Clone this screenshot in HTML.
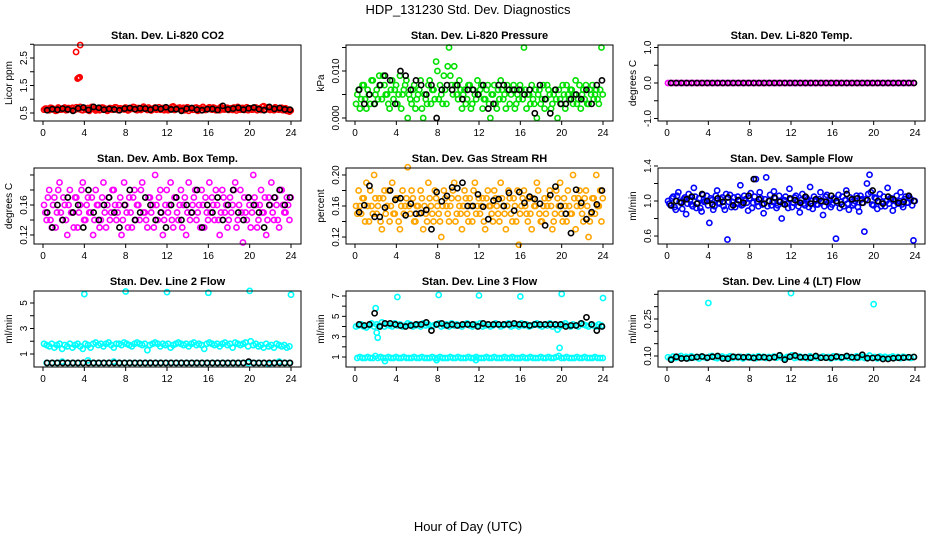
<!DOCTYPE html>
<html><head><meta charset="utf-8"><style>
html,body{margin:0;padding:0;background:#fff;}
svg{display:block;font-family:"Liberation Sans",Arial,sans-serif;}
</style></head><body>
<svg id="chart" width="936" height="540" viewBox="0 0 936 540">
<rect width="936" height="540" fill="#fff"/>
<text x="468" y="14" text-anchor="middle" font-size="13">HDP_131230  Std. Dev. Diagnostics</text>
<text x="468" y="531" text-anchor="middle" font-size="13">Hour of Day (UTC)</text>
</svg>
<script>
// ---- data ----
const co2Color=[0.62,0.66,0.60,0.68,0.64,0.59,0.67,0.63,0.70,0.61,0.65,0.69,0.62,0.66,0.72,0.60,0.64,0.68,0.63,0.71,0.59,0.66,0.62,0.69,0.65,0.61,0.67,0.64,0.70,0.60,0.66,0.63,0.68,0.62,0.65,0.71,0.60,0.67,0.64,0.69,0.61,0.66,0.63,0.70,0.65,0.62,0.68,0.64,0.60,0.67,0.74,0.63,0.66,0.61,0.69,0.64,0.58,0.67,0.62,0.70,0.65,0.60,0.66,0.63,0.71,0.62,0.68,0.64,0.60,0.67,0.63,0.69,0.65,0.61,0.66,0.72,0.62,0.68,0.64,0.60,0.67,0.63,0.70,0.65,0.61,0.75,0.63,0.68,0.64,0.60,0.66,0.62,0.69,0.64,0.58,0.55];
const co2Color2=[0.66,0.61,0.69,0.63,0.58,0.70,0.62,0.67,0.60,0.68,0.63,0.59,0.71,0.64,0.61,0.69,0.62,0.58,0.72,0.65,0.63,0.60,0.70,0.64,0.58,0.68,0.62,0.71,0.61,0.67,0.64,0.70,0.59,0.66,0.72,0.62,0.68,0.61,0.73,0.64,0.70,0.59,0.67,0.62,0.71,0.66,0.60,0.69,0.63,0.72,0.61,0.68,0.70,0.64,0.60,0.71,0.66,0.62,0.69,0.58,0.67,0.72,0.61,0.68,0.64,0.70,0.60,0.66,0.72,0.63,0.69,0.61,0.67,0.70,0.59,0.64,0.68,0.61,0.71,0.66,0.62,0.69,0.60,0.67,0.72,0.64,0.70,0.61,0.66,0.71,0.63,0.68,0.60,0.67,0.62,0.59];
const co2Black=[0.60,0.64,0.62,0.66,0.63,0.58,0.67,0.70,0.61,0.72,0.69,0.62,0.65,0.63,0.60,0.66,0.68,0.64,0.67,0.66,0.62,0.69,0.65,0.71,0.63,0.64,0.58,0.66,0.68,0.62,0.60,0.64,0.65,0.61,0.76,0.63,0.66,0.69,0.62,0.67,0.70,0.64,0.60,0.72,0.65,0.68,0.63,0.62];
const co2ExtraHours=[3.2,3.35,3.45,3.55,3.6];
const co2ExtraValues=[2.72,1.75,1.78,1.80,2.97];

const presColor=[0.003,0.006,0.004,0.007,0.002,0.005,0.008,0.003,0.006,0.009,0.004,0.007,0.005,0.002,0.008,0.006,0.003,0.009,0.005,0.007,0.000,0.004,0.006,0.002,0.005,0.008,0.000,0.004,0.007,0.003,0.006,0.012,0.004,0.005,0.009,0.003,0.015,0.007,0.011,0.005,0.008,0.002,0.006,0.004,0.007,0.003,0.005,0.008,0.006,0.002,0.004,0.007,0.000,0.005,0.003,0.006,0.008,0.004,0.002,0.006,0.005,0.007,0.003,0.004,0.006,0.015,0.002,0.005,0.007,0.003,0.000,0.006,0.004,0.002,0.007,0.005,0.003,0.006,0.000,0.004,0.007,0.002,0.005,0.006,0.003,0.008,0.004,0.002,0.006,0.007,0.003,0.005,0.004,0.006,0.003,0.015];
const presColor2=[0.005,0.002,0.007,0.004,0.006,0.003,0.008,0.005,0.004,0.007,0.009,0.005,0.003,0.006,0.004,0.007,0.005,0.002,0.006,0.008,0.005,0.003,0.007,0.004,0.006,0.002,0.005,0.003,0.008,0.006,0.004,0.010,0.007,0.003,0.006,0.011,0.009,0.005,0.007,0.004,0.006,0.005,0.003,0.007,0.002,0.006,0.004,0.005,0.007,0.004,0.006,0.003,0.005,0.007,0.002,0.004,0.006,0.005,0.007,0.003,0.006,0.002,0.005,0.007,0.004,0.006,0.005,0.003,0.004,0.006,0.005,0.003,0.007,0.004,0.006,0.002,0.005,0.004,0.006,0.003,0.005,0.007,0.004,0.006,0.005,0.003,0.007,0.005,0.004,0.003,0.006,0.007,0.005,0.004,0.006,0.005];
const presBlack=[0.006,0.003,0.005,0.003,0.007,0.009,0.008,0.003,0.010,0.009,0.006,0.008,0.007,0.005,0.007,0.000,0.006,0.007,0.006,0.007,0.004,0.006,0.006,0.005,0.007,0.002,0.003,0.007,0.007,0.006,0.006,0.006,0.005,0.006,0.001,0.007,0.004,0.001,0.006,0.003,0.003,0.004,0.005,0.004,0.006,0.003,0.007,0.008];

const tempColor=new Array(96).fill(0);
const tempBlack=new Array(48).fill(0);

const ambColor=[0.16,0.14,0.18,0.13,0.17,0.15,0.19,0.14,0.16,0.12,0.18,0.15,0.17,0.13,0.16,0.19,0.14,0.17,0.15,0.12,0.18,0.16,0.14,0.19,0.13,0.17,0.15,0.18,0.14,0.16,0.12,0.19,0.15,0.17,0.13,0.18,0.16,0.14,0.19,0.15,0.13,0.17,0.16,0.20,0.14,0.18,0.12,0.16,0.15,0.19,0.13,0.17,0.14,0.18,0.16,0.12,0.19,0.15,0.17,0.14,0.16,0.18,0.13,0.15,0.19,0.17,0.14,0.16,0.12,0.18,0.15,0.13,0.17,0.16,0.19,0.14,0.18,0.11,0.15,0.17,0.13,0.20,0.16,0.14,0.18,0.15,0.12,0.17,0.19,0.14,0.16,0.13,0.18,0.15,0.17,0.14];
const ambColor2=[0.15,0.17,0.14,0.16,0.13,0.18,0.15,0.17,0.14,0.16,0.15,0.13,0.17,0.15,0.18,0.14,0.16,0.15,0.17,0.14,0.16,0.13,0.17,0.15,0.16,0.14,0.18,0.16,0.15,0.17,0.14,0.16,0.13,0.15,0.17,0.14,0.16,0.18,0.15,0.14,0.17,0.15,0.13,0.16,0.17,0.15,0.14,0.18,0.16,0.14,0.17,0.15,0.16,0.13,0.17,0.15,0.14,0.16,0.18,0.15,0.13,0.16,0.17,0.14,0.15,0.16,0.18,0.14,0.15,0.17,0.16,0.14,0.15,0.18,0.13,0.16,0.15,0.17,0.14,0.16,0.15,0.17,0.13,0.16,0.15,0.17,0.14,0.16,0.15,0.17,0.14,0.18,0.16,0.15,0.16,0.17];
const ambBlack=[0.15,0.13,0.16,0.14,0.17,0.15,0.16,0.13,0.18,0.15,0.14,0.16,0.17,0.15,0.13,0.16,0.18,0.14,0.15,0.17,0.16,0.14,0.15,0.13,0.16,0.17,0.14,0.16,0.15,0.18,0.13,0.16,0.15,0.17,0.14,0.16,0.18,0.15,0.14,0.17,0.16,0.15,0.13,0.16,0.17,0.18,0.16,0.17];

const rhColor=[0.16,0.18,0.15,0.17,0.19,0.14,0.16,0.20,0.15,0.17,0.13,0.18,0.16,0.14,0.19,0.15,0.17,0.13,0.18,0.16,0.21,0.15,0.17,0.14,0.16,0.18,0.13,0.15,0.19,0.16,0.14,0.17,0.15,0.12,0.18,0.16,0.14,0.17,0.19,0.15,0.16,0.13,0.18,0.15,0.17,0.14,0.19,0.16,0.15,0.17,0.13,0.18,0.16,0.14,0.17,0.15,0.19,0.16,0.13,0.18,0.15,0.17,0.14,0.11,0.16,0.18,0.15,0.17,0.13,0.16,0.19,0.15,0.14,0.17,0.16,0.18,0.13,0.15,0.17,0.19,0.14,0.16,0.18,0.15,0.20,0.13,0.17,0.16,0.14,0.18,0.12,0.15,0.17,0.20,0.16,0.14];
const rhColor2=[0.15,0.16,0.17,0.14,0.16,0.18,0.15,0.17,0.16,0.14,0.17,0.15,0.18,0.16,0.15,0.17,0.14,0.16,0.15,0.17,0.16,0.18,0.14,0.16,0.15,0.17,0.16,0.14,0.17,0.15,0.18,0.16,0.14,0.16,0.17,0.15,0.16,0.18,0.14,0.17,0.15,0.16,0.17,0.14,0.16,0.18,0.15,0.17,0.16,0.14,0.17,0.16,0.15,0.18,0.16,0.14,0.17,0.15,0.16,0.17,0.14,0.16,0.18,0.15,0.17,0.16,0.14,0.15,0.17,0.16,0.18,0.14,0.16,0.15,0.17,0.16,0.14,0.18,0.16,0.15,0.17,0.14,0.16,0.15,0.17,0.16,0.18,0.15,0.17,0.16,0.14,0.17,0.15,0.16,0.18,0.17];
const rhBlack=[0.152,0.161,0.186,0.146,0.146,0.158,0.180,0.168,0.170,0.148,0.163,0.150,0.151,0.155,0.130,0.178,0.166,0.173,0.184,0.183,0.190,0.160,0.160,0.175,0.159,0.143,0.167,0.169,0.160,0.177,0.154,0.178,0.164,0.172,0.169,0.163,0.135,0.174,0.185,0.160,0.150,0.125,0.181,0.164,0.143,0.152,0.162,0.180];

const flowColor=[1.00,0.95,1.05,0.90,1.10,0.98,1.02,0.85,1.08,0.96,1.15,0.92,1.03,0.88,0.99,1.06,0.75,1.01,0.94,1.12,0.97,1.04,0.90,0.56,1.07,0.99,0.93,1.05,1.18,0.96,1.02,0.89,1.09,0.98,1.25,0.94,1.03,0.86,1.27,1.00,0.95,1.11,0.92,1.06,0.80,1.01,0.97,1.14,0.93,1.04,0.99,0.87,1.08,0.95,1.02,1.16,0.91,1.00,0.96,1.10,0.84,1.05,0.98,0.93,1.03,0.57,1.07,0.99,0.94,1.12,0.90,1.01,0.97,1.06,0.88,1.02,0.65,1.20,1.30,0.96,1.04,0.91,1.08,0.99,0.94,1.15,1.03,0.89,1.00,0.97,1.10,0.93,1.05,0.98,1.02,0.55];
const flowColor2=[0.97,1.03,0.93,1.06,0.99,0.91,1.04,0.97,1.01,0.94,1.05,0.98,0.92,1.07,1.00,0.95,1.03,0.90,1.06,0.98,1.02,0.94,1.08,0.99,0.93,1.04,0.97,1.01,0.95,1.06,0.98,1.03,0.92,1.05,0.99,1.10,0.96,1.02,0.94,1.07,0.99,1.03,0.95,1.00,0.97,1.05,0.92,1.02,0.98,1.06,0.94,1.01,0.97,1.04,0.93,1.00,1.05,0.96,1.02,0.99,0.94,1.07,1.00,0.96,1.03,0.98,0.92,1.05,1.01,0.97,1.04,0.95,1.00,0.93,1.06,0.98,1.02,1.08,1.10,0.95,1.03,0.99,0.94,1.05,1.00,0.97,1.03,0.95,1.06,1.00,0.96,1.02,0.98,1.04,0.95,1.00];
const flowBlack=[0.95,1.00,0.98,1.02,1.05,0.97,1.08,1.00,0.96,1.03,0.99,1.04,0.95,1.01,0.98,1.06,1.25,1.02,0.97,1.00,1.04,0.99,0.96,1.03,1.01,0.98,1.05,0.97,1.02,1.00,0.99,1.06,1.00,0.96,1.08,1.02,1.03,0.98,1.01,1.12,1.00,0.97,1.05,1.02,0.98,0.99,1.06,1.00];

const line2Color=[1.8,1.7,1.6,1.8,1.5,1.7,1.8,1.4,1.7,1.6,1.8,1.5,1.7,1.8,1.6,1.4,1.8,1.7,1.5,1.8,1.9,1.7,1.8,1.6,1.8,1.9,1.7,1.5,1.8,1.8,1.7,1.9,1.8,1.7,1.6,1.8,1.9,1.8,1.7,1.8,1.3,1.7,1.8,1.9,1.8,1.6,1.8,1.7,1.8,1.5,1.7,1.8,1.9,1.8,1.7,1.8,1.6,1.8,1.9,1.7,1.8,1.7,1.4,1.8,1.9,1.8,1.7,1.8,1.6,1.8,1.9,1.7,1.8,1.5,1.9,1.8,1.7,1.8,1.9,1.6,2.0,1.7,1.8,1.6,1.7,1.5,1.8,1.6,1.7,1.5,1.8,1.7,1.6,1.7,1.5,1.6];
const line2Low=[0.3,0.3,0.3,0.4,0.3,0.3,0.3,0.3,0.5,0.3,0.3,0.3,0.3,0.4,0.3,0.3,0.3,0.3,0.3,0.3,0.3,0.3,0.3,0.3,0.3,0.3,0.3,0.3,0.3,0.3,0.3,0.3,0.3,0.3,0.3,0.3,0.3,0.3,0.3,0.3,0.3,0.3,0.3,0.2,0.3,0.4,0.3,0.3];
const line2Black=[0.3,0.3,0.3,0.3,0.3,0.3,0.3,0.3,0.3,0.3,0.3,0.3,0.3,0.3,0.3,0.3,0.3,0.3,0.3,0.3,0.3,0.3,0.3,0.3,0.3,0.3,0.3,0.3,0.3,0.3,0.3,0.3,0.3,0.3,0.3,0.3,0.3,0.3,0.3,0.4,0.3,0.3,0.3,0.3,0.3,0.3,0.3,0.3];
const line2ExtraHours=[4,8,12,16,20,24];
const line2ExtraValues=[5.7,5.9,5.85,5.8,5.95,5.65];

const line3Color=[4.0,4.1,4.2,4.0,3.9,4.1,4.3,4.0,4.2,4.1,4.4,4.0,4.2,4.1,4.0,4.3,4.1,4.2,4.0,4.1,4.3,4.2,4.0,4.1,4.2,4.0,4.3,4.1,4.2,4.0,4.1,4.2,4.3,4.0,4.1,4.2,4.0,4.3,4.1,4.2,4.1,4.0,4.2,4.3,4.1,4.0,4.2,4.1,4.3,4.0,4.1,4.2,4.0,4.1,4.3,4.2,4.0,4.1,4.2,4.3,4.0,4.1,4.2,4.0,4.3,4.1,4.2,4.0,4.1,4.2,4.3,4.1,4.0,4.2,4.1,4.3,4.0,4.2,4.1,4.0,4.2,4.3,4.1,4.0,4.2,4.1,4.0,4.3,4.2,4.1,4.0,4.2,4.1,4.0,4.2,4.1];
const line3Low=[0.9,1.0,0.9,0.9,1.0,0.9,0.9,1.1,0.9,1.0,0.9,0.9,1.0,0.9,0.9,1.0,0.9,0.9,1.0,0.9,0.9,0.9,1.0,0.9,0.9,1.0,0.9,0.9,0.9,1.0,0.9,0.9,1.0,0.9,0.9,0.9,1.0,0.9,0.9,1.0,0.9,0.9,0.9,1.0,0.9,0.9,1.0,0.9,0.9,0.9,1.0,0.9,0.9,1.0,0.9,0.9,0.9,1.0,0.9,0.9,1.0,0.9,0.9,0.9,1.0,0.9,0.9,1.0,0.9,0.9,0.9,1.0,0.9,0.9,1.0,0.9,0.9,1.0,1.1,0.9,0.9,1.0,0.9,0.9,0.9,1.0,0.9,0.9,1.0,0.9,0.9,0.9,1.0,0.9,0.9,0.9];
const line3Black=[4.2,4.1,4.2,5.3,4.0,4.3,4.3,4.2,4.1,4.0,4.1,4.2,4.2,4.4,3.6,4.2,4.3,4.1,4.2,4.1,4.2,4.2,4.2,4.0,4.3,4.2,4.2,4.2,4.2,4.2,4.3,4.2,4.2,4.1,4.2,4.2,4.2,4.2,4.2,4.2,4.0,4.1,4.1,4.3,4.9,4.2,3.6,4.0];
const line3ExtraHours=[2.0,2.1,2.2,2.9,4.1,7.9,8.1,11.7,12.0,16.0,19.6,19.8,20.0,24.0];
const line3ExtraValues=[5.8,3.4,2.9,0.6,6.9,0.7,7.1,0.7,7.05,6.95,3.7,1.9,7.2,6.8];

const line4Color=[0.095,0.090,0.098,0.092,0.096,0.100,0.093,0.097,0.091,0.099,0.094,0.096,0.090,0.098,0.095,0.092,0.097,0.100,0.094,0.091,0.096,0.098,0.093,0.095,0.099,0.092,0.096,0.094,0.097,0.090,0.095,0.098,0.093,0.096,0.091,0.099,0.094,0.097,0.092,0.096,0.095,0.098,0.093,0.100,0.094,0.091,0.096,0.097,0.103,0.092,0.095,0.098,0.093,0.096,0.091,0.099,0.094,0.097,0.092,0.095,0.098,0.093,0.096,0.090,0.099,0.094,0.097,0.092,0.095,0.098,0.093,0.096,0.091,0.099,0.094,0.097,0.092,0.095,0.102,0.093,0.096,0.090,0.098,0.094,0.097,0.092,0.095,0.098,0.093,0.096,0.091,0.097,0.094,0.095,0.092,0.096];
const line4Black=[0.085,0.097,0.090,0.090,0.093,0.096,0.098,0.093,0.097,0.100,0.090,0.089,0.097,0.096,0.095,0.095,0.092,0.095,0.095,0.092,0.095,0.103,0.085,0.097,0.102,0.095,0.095,0.093,0.100,0.093,0.093,0.093,0.098,0.095,0.100,0.095,0.094,0.105,0.091,0.092,0.094,0.088,0.088,0.091,0.093,0.093,0.095,0.096];
const line4ExtraHours=[4,12,20];
const line4ExtraValues=[0.315,0.355,0.31];

const xTicks=[0,4,8,12,16,20,24];

// ---- layout ----
const NS="http://www.w3.org/2000/svg";
const svg=document.getElementById('chart');
const colX=[34,346,658], boxW=267;
const rowY=[45,168,291], boxH=76;
const x0off=9, x24off=257;

function mk(tag,attrs,parent){const e=document.createElementNS(NS,tag);for(const k in attrs)e.setAttribute(k,attrs[k]);(parent||svg).appendChild(e);return e;}

const panels=[
 {name:'co2',title:'Stan. Dev. Li-820 CO2',ylab:'Licor ppm',ymin:0.209,ymax:2.973,ticks:[0.5,1,1.5,2,2.5,3],labels:['0.5','1.5','2.5'],color:'#ff0000',series:[co2Color,co2Color2],extraH:co2ExtraHours,extraV:co2ExtraValues,black:co2Black},
 {name:'pressure',title:'Stan. Dev. Li-820 Pressure',ylab:'kPa',ymin:-0.00064,ymax:0.01553,ticks:[0,0.005,0.01,0.015],labels:['0.000','0.010'],color:'#00e000',series:[presColor,presColor2],black:presBlack},
 {name:'temp',title:'Stan. Dev. Li-820 Temp.',ylab:'degrees C',ymin:-1.07,ymax:1.07,ticks:[-1,-0.5,0,0.5,1],labels:['-1.0','0.0','1.0'],color:'#ff00ff',series:[tempColor],black:tempBlack},
 {name:'amb-box-temp',title:'Stan. Dev. Amb. Box Temp.',ylab:'degrees C',ymin:0.108,ymax:0.2093,ticks:[0.12,0.14,0.16,0.18,0.20],labels:['0.12','0.16'],color:'#ff00ff',series:[ambColor,ambColor2],black:ambBlack},
 {name:'gas-rh',title:'Stan. Dev. Gas Stream RH',ylab:'percent',ymin:0.111,ymax:0.209,ticks:[0.12,0.14,0.16,0.18,0.20],labels:['0.12','0.16','0.20'],color:'#ffa500',series:[rhColor,rhColor2],black:rhBlack},
 {name:'sample-flow',title:'Stan. Dev. Sample Flow',ylab:'ml/min',ymin:0.509,ymax:1.377,ticks:[0.6,0.8,1.0,1.2,1.4],labels:['0.6','1.0','1.4'],color:'#0000ff',series:[flowColor,flowColor2],black:flowBlack},
 {name:'line2-flow',title:'Stan. Dev. Line 2 Flow',ylab:'ml/min',ymin:-0.02,ymax:5.94,ticks:[1,2,3,4,5],labels:['1','3','5'],color:'#00ffff',series:[line2Color,line2Low],extraH:line2ExtraHours,extraV:line2ExtraValues,black:line2Black},
 {name:'line3-flow',title:'Stan. Dev. Line 3 Flow',ylab:'ml/min',ymin:0.017,ymax:7.49,ticks:[1,2,3,4,5,6,7],labels:['1','3','5','7'],color:'#00ffff',series:[line3Color,line3Low],extraH:line3ExtraHours,extraV:line3ExtraValues,black:line3Black},
 {name:'line4-flow',title:'Stan. Dev. Line 4 (LT) Flow',ylab:'ml/min',ymin:0.0554,ymax:0.3635,ticks:[0.10,0.15,0.20,0.25,0.30,0.35],labels:['0.10','0.25'],color:'#00ffff',series:[line4Color],extraH:line4ExtraHours,extraV:line4ExtraValues,black:line4Black}
];

panels.forEach((p,i)=>{
  const bx=colX[i%3], by=rowY[Math.floor(i/3)];
  const g=mk('g',{});
  
  
  const xs=h=>bx+x0off+(h/24)*(x24off-x0off);
  const ys=v=>by+boxH-(v-p.ymin)/(p.ymax-p.ymin)*boxH;
  const t=mk('text',{x:bx+boxW/2,y:by-6,'text-anchor':'middle','font-size':11,'font-weight':'bold'},g);
  t.textContent=p.title;
  
  
  const pts=mk('g',{fill:'none','stroke-width':1.6},g);
  
  
  p.series.forEach((arr,si)=>{
    const n=arr.length, step=24/n, off=si===0?0:step/2;
    arr.forEach((v,k)=>{
      const c=mk('circle',{cx:xs(k*step+off+0.1),cy:ys(v),r:2.6,stroke:p.color},pts);
      
      
    });
  });
  if(p.extraH) p.extraH.forEach((h,k)=>{
    const c=mk('circle',{cx:xs(h),cy:ys(p.extraV[k]),r:2.6,stroke:p.color},pts);
    
    
  });
  p.black.forEach((v,k)=>{
    const c=mk('circle',{cx:xs(0.5+k*0.5-0.1),cy:ys(v),r:2.6,stroke:'#000'},pts);
    
    
  });
  const box=mk('rect',{x:bx,y:by,width:boxW,height:boxH,fill:'none',stroke:'#000','stroke-width':1},g);
  
  
  xTicks.forEach(h=>{
    mk('line',{x1:xs(h),x2:xs(h),y1:by+boxH,y2:by+boxH+4,stroke:'#000'},g);
    const tl=mk('text',{x:xs(h),y:by+boxH+15,'text-anchor':'middle','font-size':10},g);
    tl.textContent=h;
    
    
  });
  p.ticks.forEach(v=>{mk('line',{x1:bx-4,x2:bx,y1:ys(v),y2:ys(v),stroke:'#000'},g);});
  p.labels.forEach(s=>{
    const v=parseFloat(s),yy=ys(v);
    const tl=mk('text',{x:0,y:0,'text-anchor':'middle','font-size':10,transform:`translate(${bx-7},${yy}) rotate(-90)`},g);
    tl.textContent=s;
    
    
  });
  const yl=mk('text',{x:0,y:0,'text-anchor':'middle','font-size':10,transform:`translate(${bx-22},${by+boxH/2}) rotate(-90)`},g);
  yl.textContent=p.ylab;
  
  
});
</script>
</body></html>
